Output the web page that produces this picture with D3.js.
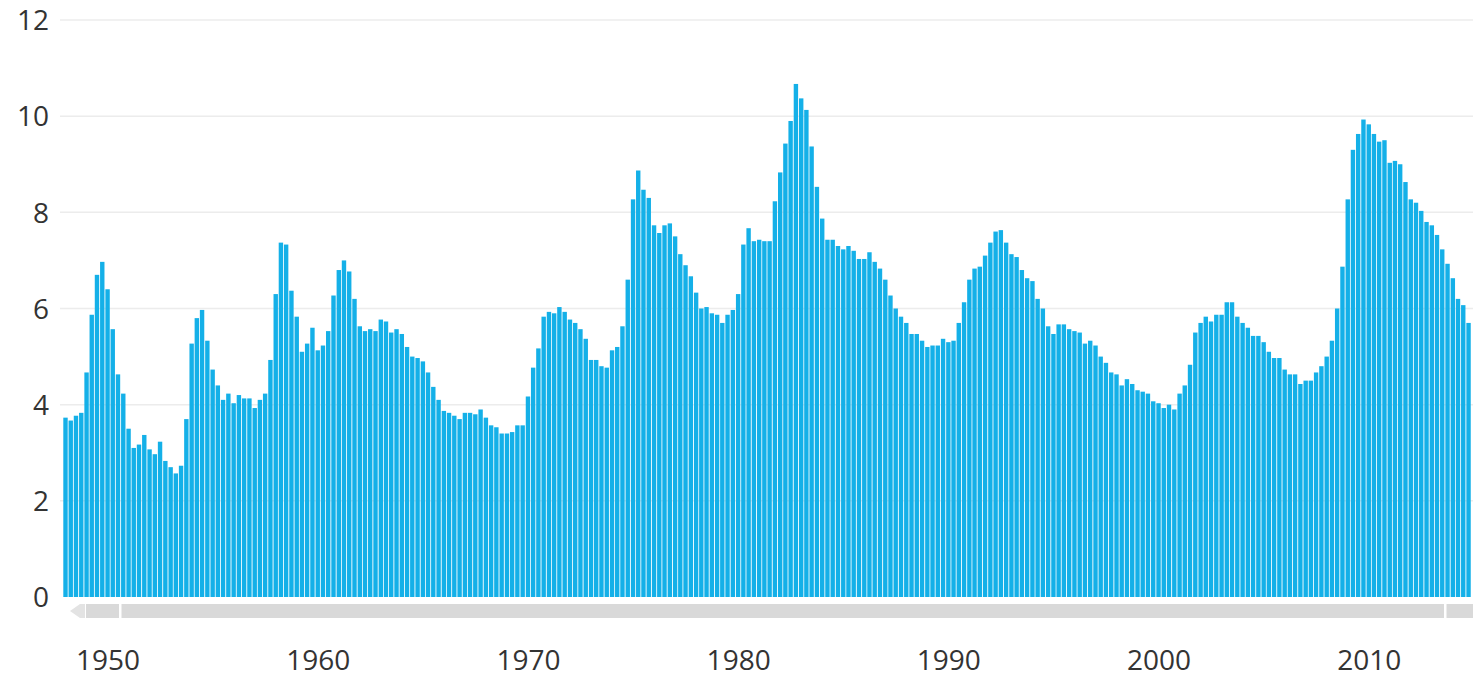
<!DOCTYPE html>
<html>
<head>
<meta charset="utf-8">
<script src="https://cdn.jsdelivr.net/npm/d3@7"></script>
<style>
  body { margin: 0; background: #fff; }
  svg { display: block; }
  .tick text { font-family: "Open Sans", sans-serif; fill: #333; }
</style>
</head>
<body>
<div id="chart"></div>
<script>
// quarterly unemployment rate, 1948 Q1 .. 2014 Q4
var startYear = 1948;
var rates = [
  3.73, 3.67, 3.77, 3.83,  4.67, 5.87, 6.70, 6.97,  6.40, 5.57, 4.63, 4.23,
  3.50, 3.10, 3.17, 3.37,  3.07, 2.97, 3.23, 2.83,  2.70, 2.57, 2.73, 3.70,
  5.27, 5.80, 5.97, 5.33,  4.73, 4.40, 4.10, 4.23,  4.03, 4.20, 4.13, 4.13,
  3.93, 4.10, 4.23, 4.93,  6.30, 7.37, 7.33, 6.37,  5.83, 5.10, 5.27, 5.60,
  5.13, 5.23, 5.53, 6.27,  6.80, 7.00, 6.77, 6.20,  5.63, 5.53, 5.57, 5.53,
  5.77, 5.73, 5.50, 5.57,  5.47, 5.20, 5.00, 4.97,  4.90, 4.67, 4.37, 4.10,
  3.87, 3.83, 3.77, 3.70,  3.83, 3.83, 3.80, 3.90,  3.73, 3.57, 3.53, 3.40,
  3.40, 3.43, 3.57, 3.57,  4.17, 4.77, 5.17, 5.83,  5.93, 5.90, 6.03, 5.93,
  5.77, 5.70, 5.57, 5.37,  4.93, 4.93, 4.80, 4.77,  5.13, 5.20, 5.63, 6.60,
  8.27, 8.87, 8.47, 8.30,  7.73, 7.57, 7.73, 7.77,  7.50, 7.13, 6.90, 6.67,
  6.33, 6.00, 6.03, 5.90,  5.87, 5.70, 5.87, 5.97,  6.30, 7.33, 7.67, 7.40,
  7.43, 7.40, 7.40, 8.23,  8.83, 9.43, 9.90, 10.67, 10.37, 10.13, 9.37, 8.53,
  7.87, 7.43, 7.43, 7.30,  7.23, 7.30, 7.20, 7.03,  7.03, 7.17, 6.97, 6.83,
  6.60, 6.27, 6.00, 5.83,  5.70, 5.47, 5.47, 5.33,  5.20, 5.23, 5.23, 5.37,
  5.30, 5.33, 5.70, 6.13,  6.60, 6.83, 6.87, 7.10,  7.37, 7.60, 7.63, 7.37,
  7.13, 7.07, 6.80, 6.63,  6.57, 6.20, 6.00, 5.63,  5.47, 5.67, 5.67, 5.57,
  5.53, 5.50, 5.27, 5.33,  5.23, 5.00, 4.87, 4.67,  4.63, 4.40, 4.53, 4.43,
  4.30, 4.27, 4.23, 4.07,  4.03, 3.93, 4.00, 3.90,  4.23, 4.40, 4.83, 5.50,
  5.70, 5.83, 5.73, 5.87,  5.87, 6.13, 6.13, 5.83,  5.70, 5.60, 5.43, 5.43,
  5.30, 5.10, 4.97, 4.97,  4.73, 4.63, 4.63, 4.43,  4.50, 4.50, 4.67, 4.80,
  5.00, 5.33, 6.00, 6.87,  8.27, 9.30, 9.63, 9.93,  9.83, 9.63, 9.47, 9.50,
  9.03, 9.07, 9.00, 8.63,  8.27, 8.20, 8.03, 7.80,  7.73, 7.53, 7.23, 6.93,
  6.63, 6.20, 6.07, 5.70
];
var yTicks = [0, 2, 4, 6, 8, 10, 12];

var data = rates.map(function (v, i) {
    return { date: new Date(startYear + Math.floor(i / 4), (i % 4) * 3, 1), value: v };
});

var W = 1473, H = 677;
var svg = d3.select("#chart").append("svg")
    .attr("width", W)
    .attr("height", H);

// x: time scale, one year is about 21px
var x = d3.scaleTime()
    .domain([new Date(1948, 0, 1), new Date(2015, 0, 1)])
    .range([65.5, 65.5 + 67 * 21.02]);

var y = d3.scaleLinear()
    .domain([0, 12])
    .range([597, 20]);

// grid lines
svg.append("g")
    .selectAll("line")
    .data(yTicks.filter(function (d) { return d > 0; }))
    .enter()
    .append("line")
    .attr("x1", 60)
    .attr("x2", W)
    .attr("y1", function (d) { return y(d); })
    .attr("y2", function (d) { return y(d); })
    .style("stroke", "#ececec")
    .style("stroke-width", 1.5);

// y axis labels
var yAxis = svg.append("g")
    .attr("transform", "translate(49,0)")
    .call(d3.axisLeft(y).tickValues(yTicks).tickSize(0).tickPadding(0));
yAxis.select(".domain").remove();
yAxis.selectAll("text").style("font-size", "28px").attr("dy", "0.35em");

// bars
var barW = 4.4;
svg.append("g")
    .selectAll("rect")
    .data(data)
    .enter()
    .append("rect")
    .attr("x", function (d) { return x(d.date) - barW / 2; })
    .attr("y", function (d) { return y(d.value); })
    .attr("width", barW)
    .attr("height", function (d) { return y(0) - y(d.value); })
    .style("fill", "#14b0e8");

// scrollbar under the plot
var sb = svg.append("g");
sb.append("rect")
    .attr("x", 86).attr("y", 604)
    .attr("width", W - 86).attr("height", 14)
    .style("fill", "#d9d9d9");
sb.append("path")
    .attr("d", "M70,611 L80,604 L85,604 L85,618 L80,618 Z")
    .style("fill", "#e3e3e3");
[119, 1444].forEach(function (px) {
    sb.append("rect")
        .attr("x", px).attr("y", 603)
        .attr("width", 2.5).attr("height", 16)
        .style("fill", "#fff");
});

// x axis labels
var xAxis = svg.append("g")
    .attr("transform", "translate(0,648)")
    .call(d3.axisBottom(x).ticks(d3.timeYear.every(10)).tickSize(0).tickPadding(0)
        .tickFormat(d3.timeFormat("%Y")));
xAxis.select(".domain").remove();
xAxis.selectAll("text").style("font-size", "28px").attr("dy", "0.8em");
</script>
</body>
</html>
